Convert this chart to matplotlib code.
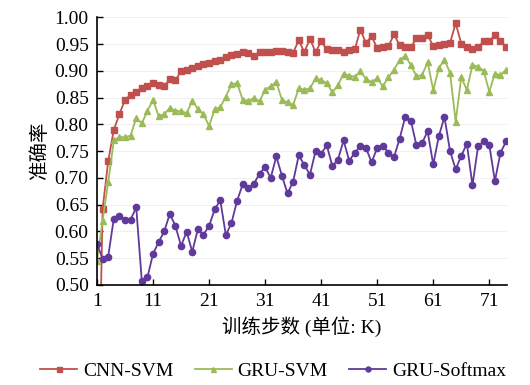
import numpy as np
import matplotlib
matplotlib.use('Agg')
import matplotlib.pyplot as plt
from matplotlib.ticker import FormatStrFormatter, MultipleLocator

plt.rcParams['font.family'] = ['Liberation Serif', 'Noto Sans CJK SC']
plt.rcParams['font.size'] = 14

steps = np.arange(1, 75)

# accuracy per training step
cnn_svm = [0.10, 0.642, 0.731, 0.790, 0.819, 0.846, 0.855, 0.861, 0.867, 0.872,
           0.877, 0.874, 0.872, 0.884, 0.882, 0.900, 0.902, 0.906, 0.909, 0.912,
           0.915, 0.918, 0.921, 0.926, 0.929, 0.932, 0.935, 0.933, 0.928, 0.935,
           0.935, 0.936, 0.937, 0.938, 0.936, 0.934, 0.957, 0.935, 0.960, 0.935,
           0.955, 0.940, 0.939, 0.939, 0.936, 0.939, 0.940, 0.977, 0.952, 0.965,
           0.942, 0.944, 0.946, 0.968, 0.948, 0.945, 0.944, 0.961, 0.962, 0.967,
           0.946, 0.949, 0.950, 0.952, 0.989, 0.951, 0.945, 0.941, 0.944, 0.955,
           0.955, 0.967, 0.955, 0.945]
gru_svm = [0.545, 0.620, 0.692, 0.770, 0.776, 0.776, 0.779, 0.812, 0.802, 0.825,
           0.846, 0.815, 0.819, 0.831, 0.825, 0.825, 0.821, 0.844, 0.829, 0.819,
           0.797, 0.828, 0.832, 0.852, 0.875, 0.877, 0.846, 0.844, 0.849, 0.843,
           0.865, 0.871, 0.879, 0.846, 0.841, 0.836, 0.867, 0.865, 0.867, 0.886,
           0.883, 0.877, 0.860, 0.873, 0.895, 0.891, 0.889, 0.899, 0.885, 0.879,
           0.886, 0.871, 0.888, 0.902, 0.920, 0.928, 0.911, 0.890, 0.892, 0.916,
           0.864, 0.905, 0.921, 0.896, 0.805, 0.888, 0.864, 0.911, 0.908, 0.900,
           0.861, 0.895, 0.892, 0.902]
gru_softmax = [0.577, 0.549, 0.553, 0.624, 0.629, 0.622, 0.622, 0.645, 0.507, 0.514,
               0.558, 0.580, 0.600, 0.633, 0.610, 0.573, 0.599, 0.562, 0.604, 0.594,
               0.610, 0.641, 0.658, 0.593, 0.616, 0.657, 0.688, 0.681, 0.689, 0.708,
               0.720, 0.700, 0.740, 0.704, 0.671, 0.693, 0.742, 0.724, 0.706, 0.750,
               0.745, 0.761, 0.722, 0.734, 0.770, 0.732, 0.747, 0.759, 0.756, 0.729,
               0.756, 0.760, 0.747, 0.739, 0.773, 0.814, 0.807, 0.761, 0.765, 0.787,
               0.725, 0.778, 0.814, 0.750, 0.716, 0.741, 0.764, 0.686, 0.759, 0.768,
               0.762, 0.694, 0.747, 0.768]
xticks = [1, 11, 21, 31, 41, 51, 61, 71]

fig = plt.figure(figsize=(5.3, 3.85), dpi=100)
ax = fig.add_axes([0.183, 0.26, 0.774, 0.695])

ax.plot(steps, cnn_svm, color='#C0504D', marker='s', markersize=4.5, lw=1.3, label='CNN-SVM')
ax.plot(steps, gru_svm, color='#9BBB59', marker='^', markersize=4.5, lw=1.3, label='GRU-SVM')
ax.plot(steps, gru_softmax, color='#603A9B', marker='o', markersize=4.5, lw=1.3, label='GRU-Softmax')

ax.set_xlim(1, 74.2)
ax.set_ylim(0.5, 1.0)
ax.set_xticks(xticks)
ax.yaxis.set_major_locator(MultipleLocator(0.05))
ax.yaxis.set_major_formatter(FormatStrFormatter('%.2f'))
ax.tick_params(direction='in', length=4, width=1, pad=6)
ax.grid(axis='y', color='#EFEFEF', lw=0.8)
ax.set_axisbelow(True)
for s in ['top', 'right']:
    ax.spines[s].set_visible(False)
for s in ['left', 'bottom']:
    ax.spines[s].set_linewidth(1.2)

ax.set_ylabel('准确率', labelpad=4)
ax.set_xlabel('训练步数 (单位: K)', labelpad=4)
ax.legend(loc='center', bbox_to_anchor=(0.515, 0.037), bbox_transform=fig.transFigure,
          ncol=3, frameon=False, handlelength=1.9, columnspacing=1.1,
          handletextpad=0.3, markerscale=0.8, borderpad=0.1)

fig.savefig('out.png')
